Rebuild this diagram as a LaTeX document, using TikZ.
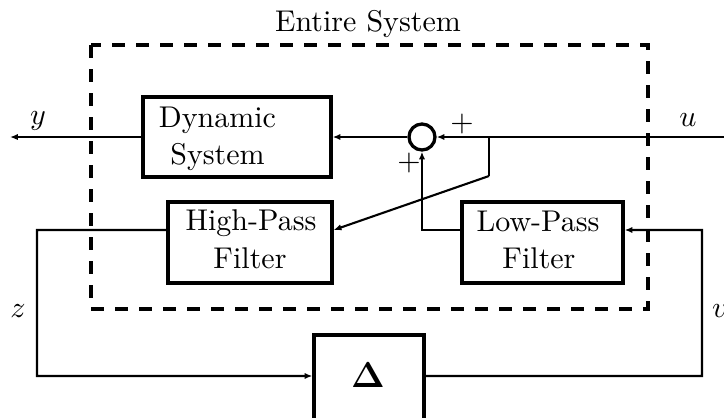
\documentclass[tikz,border=0pt]{standalone}
\usetikzlibrary{arrows.meta}
\newcommand{\pxu}{0.3333pt}
\begin{document}
\begin{tikzpicture}[x=0.3333pt, y=-0.3333pt,
  font=\fontsize{10}{12.3}\selectfont,
  blk/.style={draw, line width=1.1pt, inner sep=0pt},
  wire/.style={line width=0.7pt},
  arr/.style={wire, -{Latex[length=2.6pt,width=2.1pt]}},
  frame/.style={line width=1.25pt, dash pattern=on 4.3pt off 3.7pt},
  txt/.style={inner sep=0pt, anchor=base}]
\useasboundingbox (0,0) rectangle (724,417);

% dashed boundary of the whole plant
\draw[frame] (91,45) rectangle (648,309);
\node[txt] (title) at (368,31) {Entire System};

% blocks
\node[blk, minimum width=188*\pxu, minimum height=80*\pxu] (dyn) at (237,137) {};
\node[txt] (dynA) at (217.5,127) {Dynamic};
\node[txt] (dynB) at (217.5,164) {System};

\node[blk, minimum width=164*\pxu, minimum height=81*\pxu] (hp) at (250,242.5) {};
\node[txt] (hpA) at (251,230) {High-Pass};
\node[txt] (hpB) at (250,268) {Filter};

\node[blk, minimum width=161*\pxu, minimum height=81*\pxu] (lp) at (542.5,242.5) {};
\node[txt] (lpA) at (538,231) {Low-Pass};
\node[txt] (lpB) at (539,268) {Filter};

\node[blk, minimum width=110*\pxu, minimum height=86*\pxu] (delta) at (369,378) {};
\node[inner sep=0pt] (dsym) at (368,375) {\large$\mathbf{\Delta}$};

% summing junction
\node[draw, circle, line width=1.1pt, minimum size=26*\pxu, inner sep=0pt] (sum) at (422,137) {};
\node[inner sep=0pt] (plusA) at (462,124) {$+$};
\node[inner sep=0pt] (plusB) at (409,163) {$+$};

% free ends and corners
\coordinate (yout) at (10,137);
\coordinate (uin) at (730,137);
\coordinate (br) at (489,137);
\coordinate (brlow) at (489,176);
\coordinate (zc) at (37,376);
\coordinate (vc) at (702,376);

% connectors
\draw[arr] (dyn.west) -- (yout);
\draw[arr] (uin) -- (sum.east);
\draw[arr] (sum.west) -- (dyn.east);
\draw[wire] (br) -- (brlow);
\draw[arr] (brlow) -- ([yshift=4.17pt]hp.east);
\draw[arr] ([yshift=4.17pt]lp.west) -| (sum.south);
\draw[arr] ([yshift=4.17pt]hp.west) -| (zc) -- ([yshift=0.67pt]delta.west);
\draw[arr] ([yshift=0.67pt]delta.east) -- (vc) |- ([yshift=4.17pt]lp.east);

% signal names
\node[txt] (ylab) at (38,124) {$y$};
\node[txt] (ulab) at (688,126) {$u$};
\node[txt] (zlab) at (18,317) {$z$};
\node[txt] (vlab) at (720,317) {$v$};
\end{tikzpicture}
\end{document}
